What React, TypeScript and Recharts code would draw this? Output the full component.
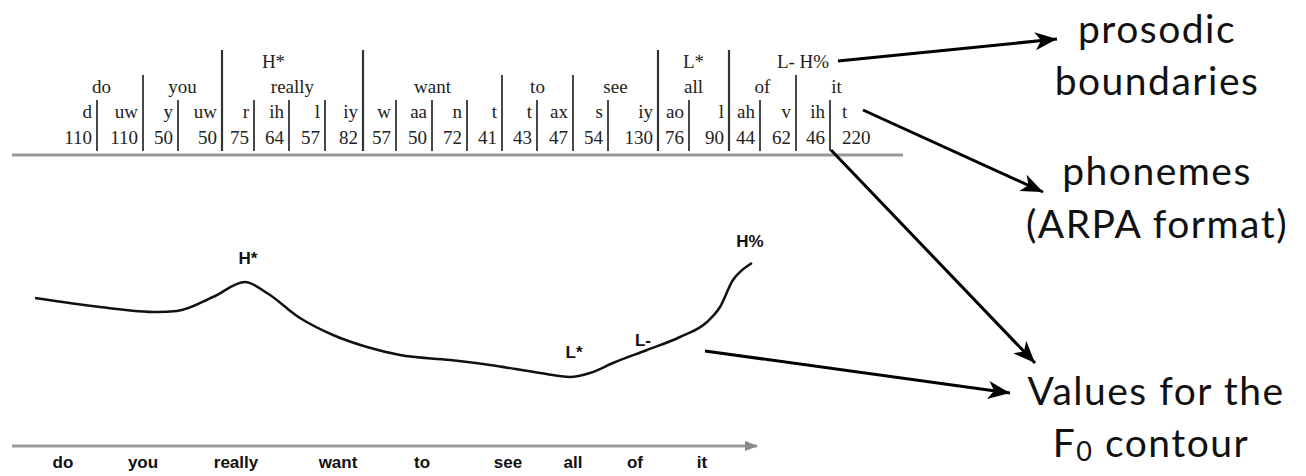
import React from "react";
import { LineChart, Line, XAxis, YAxis, ReferenceDot } from "recharts";

// words of the utterance and where they sit on the time axis
const words = ["do", "you", "really", "want", "to", "see", "all", "of", "it"];
const wordTimes = [51, 131, 224, 326, 410, 496, 561, 623, 690];

// F0 contour samples (time, F0 units)
const contourTimes = [23, 88, 145, 165, 201, 233, 255, 288, 321, 355, 388, 438, 478, 528, 558, 578, 601, 635, 668, 695, 708, 721, 728, 740];
const contourF0 = [74, 69.5, 67, 67.5, 74.5, 82, 76.5, 64, 55.5, 49.5, 45.5, 43, 40.5, 36.5, 34.5, 36.5, 41.5, 48, 54.5, 62, 69.5, 83, 87, 91.5];

// ToBI marks on the contour
const markLabels = ["H*", "L*", "L-", "H%"];
const markTimes = [236, 562, 631, 738];
const markF0 = [94, 47, 53, 102.5];

// phoneme table
const phones = ["d", "uw", "y", "uw", "r", "ih", "l", "iy", "w", "aa", "n", "t", "t", "ax", "s", "iy", "ao", "l", "ah", "v", "ih", "t"];
const durations = [110, 110, 50, 50, 75, 64, 57, 82, 57, 50, 72, 41, 43, 47, 54, 130, 76, 90, 44, 62, 46, 220];
const phoneWord = [0, 0, 1, 1, 2, 2, 2, 2, 3, 3, 3, 3, 4, 4, 5, 5, 6, 6, 7, 7, 8, 8];
const accentedWords = [2, 6];
const toneLabels = ["H*", "L*", "L- H%"];
const toneFirst = [4, 16, 18];
const toneLast = [6, 17, 21];

// layout of the table columns (pixel edges)
const COL_EDGES = [60, 97, 143, 178, 222, 254, 289, 325, 363, 396, 432, 467, 502, 537, 573, 608, 658, 689, 729, 760, 796, 830, 877];

const data = contourTimes.map((t, i) => ({ t, f0: contourF0[i] }));

const serif = "'Liberation Serif', 'Times New Roman', serif";
const sans = "'Liberation Sans', Arial, sans-serif";
const gill = "Lato, 'Open Sans', sans-serif";

function PhonemeTable() {
  const seps = [];
  for (let i = 1; i < phones.length; i++) {
    const wordEdge = phoneWord[i] !== phoneWord[i - 1];
    const tall = wordEdge && (accentedWords.includes(phoneWord[i]) || accentedWords.includes(phoneWord[i - 1]));
    const y1 = tall ? 50 : wordEdge ? 75 : 100;
    seps.push(<line key={"s" + i} x1={COL_EDGES[i]} x2={COL_EDGES[i]} y1={y1} y2={151} stroke="#333" strokeWidth={tall ? 2.2 : 1.8} />);
  }
  const wordCells = words.map((w, wi) => {
    const idx = phoneWord.map((p, j) => (p === wi ? j : -1)).filter(j => j >= 0);
    const x = (COL_EDGES[idx[0]] + COL_EDGES[idx[idx.length - 1] + 1]) / 2;
    return <text key={"w" + wi} x={x} y={93} textAnchor="middle">{w}</text>;
  });
  const last = phones.length - 1;
  // last column has no right rule, so it is set flush left
  const cellX = (i: number) => (i === last ? COL_EDGES[i] + 12 : COL_EDGES[i + 1] - 5);
  const cellAnchor = (i: number) => (i === last ? "start" : "end");
  return (
    <g fontFamily={serif} fontSize={19} fill="#222">
      {toneLabels.map((l, i) => (
        <text key={"t" + i} x={(COL_EDGES[toneFirst[i]] + COL_EDGES[toneLast[i] + 1]) / 2} y={68} textAnchor="middle">{l}</text>
      ))}
      {wordCells}
      {phones.map((p, i) => (
        <text key={"p" + i} x={cellX(i)} y={118} textAnchor={cellAnchor(i)}>{p}</text>
      ))}
      {durations.map((d, i) => (
        <text key={"d" + i} x={cellX(i)} y={144} textAnchor={cellAnchor(i)}>{d}</text>
      ))}
      {seps}
      <line x1={12} x2={903} y1={155} y2={155} stroke="#999" strokeWidth={3} />
    </g>
  );
}

function Annotations() {
  return (
    <svg width={1306} height={476} style={{ position: "absolute", left: 0, top: 0, pointerEvents: "none" }}>
      <defs>
        <marker id="head" markerUnits="userSpaceOnUse" markerWidth={26} markerHeight={20} refX={22} refY={9} orient="auto">
          <path d="M0,0 L22,9 L0,18 L6,9 Z" fill="#000" />
        </marker>
      </defs>
      <PhonemeTable />
      <polygon points="745,441 758,446 745,451" fill="#888" />
      <g stroke="#000" strokeWidth={3} markerEnd="url(#head)">
        <line x1={838} y1={61} x2={1057} y2={39} />
        <line x1={863} y1={110} x2={1043} y2={192} />
        <line x1={831} y1={150} x2={1035} y2={363} />
        <line x1={705} y1={351} x2={1010} y2={393} />
      </g>
      <g fontFamily={gill} fontSize={39} fill="#111" textAnchor="middle" letterSpacing={1.5}>
        <text x={1157} y={43}>prosodic</text>
        <text x={1157} y={95}>boundaries</text>
        <text x={1157} y={185}>phonemes</text>
        <text x={1157} y={238}>(ARPA format)</text>
        <text x={1156} y={405}>Values for the</text>
        <text x={1151} y={457}>
          F<tspan fontSize={27} dy={4}>0</tspan>
          <tspan dy={-4}> contour</tspan>
        </text>
      </g>
    </svg>
  );
}

export default function App() {
  return (
    <div style={{ position: "fixed", left: 0, top: 0, width: 1306, height: 476, background: "#fff", overflow: "hidden" }}>
      <LineChart
        width={1306}
        height={476}
        data={data}
        margin={{ top: 226, right: 549, bottom: 0, left: 12 }}
        style={{ position: "absolute", left: 0, top: 0, fontFamily: sans }}
      >
        <XAxis
          dataKey="t"
          type="number"
          domain={[0, 745]}
          ticks={wordTimes}
          tickFormatter={(v: number) => words[wordTimes.indexOf(v)]}
          height={30}
          tickLine={false}
          tickSize={0}
          tickMargin={10}
          axisLine={{ stroke: "#9a9a9a", strokeWidth: 3 }}
          tick={{ fontSize: 17, fontWeight: 700, fill: "#111", fontFamily: sans }}
          interval={0}
        />
        <YAxis hide domain={[0, 110]} width={0} />
        <Line type="monotone" dataKey="f0" stroke="#111" strokeWidth={2.5} dot={false} isAnimationActive={false} />
        {markLabels.map((l, i) => (
          <ReferenceDot
            key={l}
            x={markTimes[i]}
            y={markF0[i]}
            r={0}
            fill="none"
            stroke="none"
            ifOverflow="visible"
            label={{ value: l, position: "center", fontSize: 17, fontWeight: 700, fill: "#111", fontFamily: sans }}
          />
        ))}
      </LineChart>
      <Annotations />
    </div>
  );
}
